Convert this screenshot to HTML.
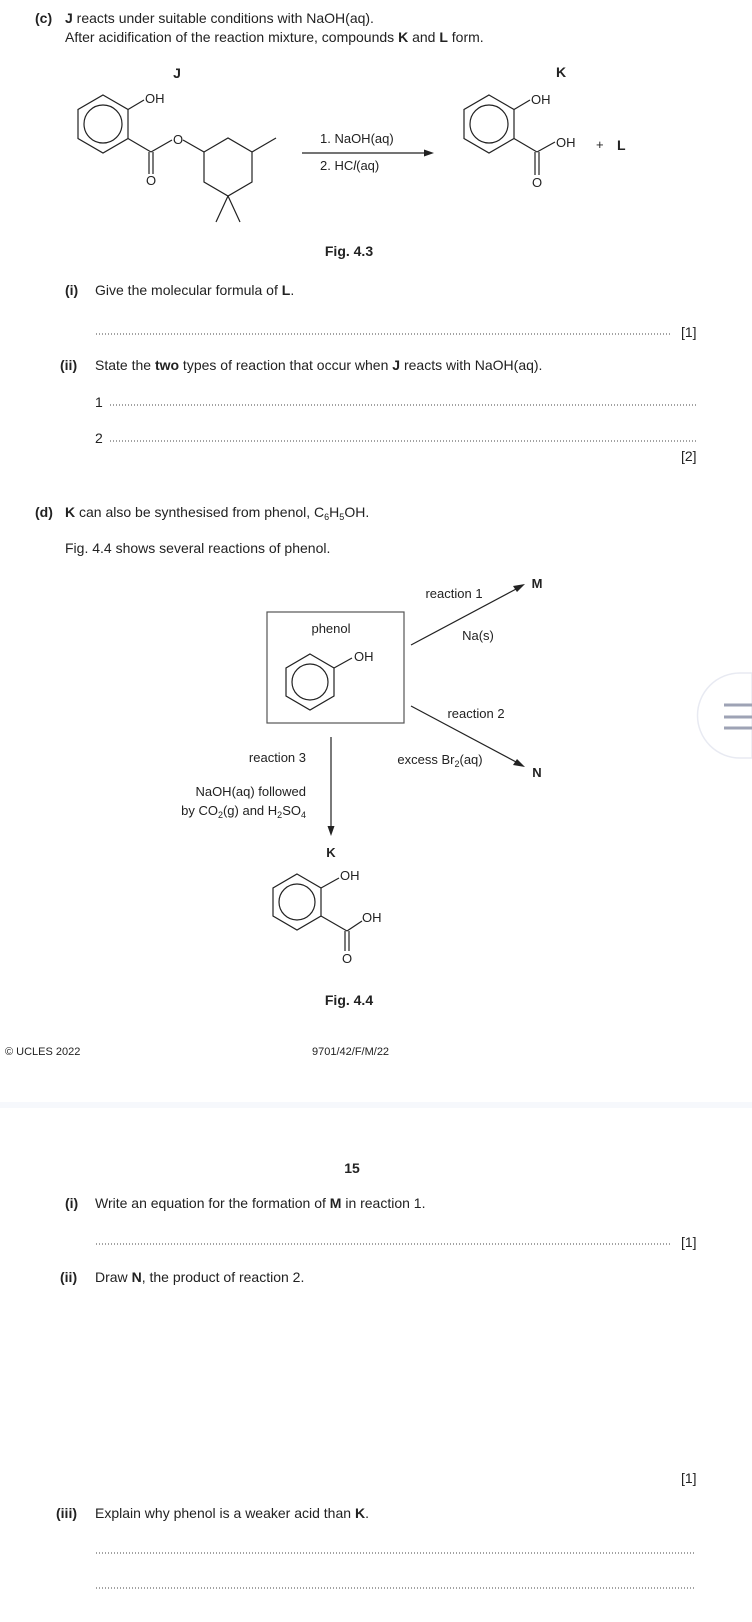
<!DOCTYPE html>
<html><head><meta charset="utf-8"><style>
html,body{margin:0;padding:0;background:#fff;}
svg{display:block;}
text{font-family:"Liberation Sans",Arial,sans-serif;font-size:14px;fill:#222;}
.b{font-weight:bold;}
.s{font-size:13px;}
.sub{font-size:9px;}
.dot{stroke:#444;stroke-width:1;stroke-dasharray:1 2;}
</style></head><body>
<svg width="752" height="1622" viewBox="0 0 752 1622" xmlns="http://www.w3.org/2000/svg">
<rect width="752" height="1622" fill="#fff"/>
<!-- header -->
<text x="35" y="23" class="b">(c)</text>
<text x="65" y="23"><tspan class="b">J</tspan> reacts under suitable conditions with NaOH(aq).</text>
<text x="65" y="42">After acidification of the reaction mixture, compounds <tspan class="b">K</tspan> and <tspan class="b">L</tspan> form.</text>

<g stroke="#222" stroke-width="1.2" fill="none">
<!-- J -->
<polygon points="103,95 128,109.5 128,138.5 103,153 78,138.5 78,109.5"/>
<circle cx="103" cy="124" r="19"/>
<line x1="128" y1="109.5" x2="144" y2="100"/>
<line x1="128" y1="138.5" x2="151" y2="152"/>
<line x1="149" y1="152" x2="149" y2="174"/><line x1="153" y1="152" x2="153" y2="174"/>
<line x1="151" y1="152" x2="172" y2="140"/>
<line x1="183" y1="140" x2="204" y2="152"/>
<polygon points="204,152 228,138 252,152 252,182 228,196 204,182"/>
<line x1="252" y1="152" x2="276" y2="138"/>
<line x1="228" y1="196" x2="216" y2="222"/><line x1="228" y1="196" x2="240" y2="222"/>
<!-- arrow -->
<line x1="302" y1="153" x2="428" y2="153"/>
<!-- K -->
<polygon points="489,95 514,109.5 514,138.5 489,153 464,138.5 464,109.5"/>
<circle cx="489" cy="124" r="19"/>
<line x1="514" y1="109.5" x2="530" y2="100"/>
<line x1="514" y1="138.5" x2="537" y2="152"/>
<line x1="535" y1="152" x2="535" y2="175"/><line x1="539" y1="152" x2="539" y2="175"/>
<line x1="537" y1="152" x2="555" y2="142"/>
<!-- phenol box -->
<rect x="267" y="612" width="137" height="111" stroke="#555"/>
<polygon points="310,654 334,668 334,696 310,710 286,696 286,668"/>
<circle cx="310" cy="682" r="18"/>
<line x1="334" y1="668" x2="352" y2="658"/>
<line x1="411" y1="645" x2="518" y2="588"/>
<line x1="411" y1="706" x2="518" y2="763"/>
<line x1="331" y1="737" x2="331" y2="828"/>
<!-- K2 -->
<polygon points="297,874 321,888 321,916 297,930 273,916 273,888"/>
<circle cx="297" cy="902" r="18"/>
<line x1="321" y1="888" x2="339" y2="878"/>
<line x1="321" y1="916" x2="347" y2="931"/>
<line x1="345" y1="931" x2="345" y2="951"/><line x1="349" y1="931" x2="349" y2="951"/>
<line x1="347" y1="931" x2="362" y2="921"/>
</g>
<g fill="#222">
<polygon points="434,153 424,149.5 424,156.5"/>
<polygon points="525,584 513,586 517,592"/>
<polygon points="525,767 513,765 517,759"/>
<polygon points="331,836 327.5,826 334.5,826"/>
</g>
<!-- molecule labels -->
<text x="177" y="78" class="b" text-anchor="middle">J</text>
<text x="145" y="103" class="s">OH</text>
<text x="151" y="185" class="s" text-anchor="middle">O</text>
<text x="178" y="144" class="s" text-anchor="middle">O</text>
<text x="320" y="143" class="s">1.  NaOH(aq)</text>
<text x="320" y="170" class="s">2.  HC<tspan font-style="italic">l</tspan>(aq)</text>
<text x="561" y="77" class="b" text-anchor="middle">K</text>
<text x="531" y="104" class="s">OH</text>
<text x="537" y="187" class="s" text-anchor="middle">O</text>
<text x="556" y="147" class="s">OH</text>
<text x="596" y="149" class="s">+</text>
<text x="617" y="150" class="b">L</text>
<text x="349" y="256" class="b" text-anchor="middle">Fig. 4.3</text>

<text x="65" y="295" class="b">(i)</text>
<text x="95" y="295">Give the molecular formula of <tspan class="b">L</tspan>.</text>
<line x1="96" y1="334" x2="672" y2="334" class="dot"/>
<text x="681" y="337">[1]</text>
<text x="60" y="370" class="b">(ii)</text>
<text x="95" y="370">State the <tspan class="b">two</tspan> types of reaction that occur when <tspan class="b">J</tspan> reacts with NaOH(aq).</text>
<text x="95" y="407">1</text>
<line x1="110" y1="405" x2="696" y2="405" class="dot"/>
<text x="95" y="443">2</text>
<line x1="110" y1="441" x2="696" y2="441" class="dot"/>
<text x="681" y="461">[2]</text>
<text x="35" y="517" class="b">(d)</text>
<text x="65" y="517"><tspan class="b">K</tspan> can also be synthesised from phenol, C<tspan class="sub" dy="3">6</tspan><tspan dy="-3">H</tspan><tspan class="sub" dy="3">5</tspan><tspan dy="-3">OH.</tspan></text>
<text x="65" y="553">Fig. 4.4 shows several reactions of phenol.</text>

<!-- fig 4.4 labels -->
<text x="454" y="598" class="s" text-anchor="middle">reaction 1</text>
<text x="537" y="588" class="b s" text-anchor="middle">M</text>
<text x="478" y="640" class="s" text-anchor="middle">Na(s)</text>
<text x="331" y="633" class="s" text-anchor="middle">phenol</text>
<text x="354" y="661" class="s">OH</text>
<text x="476" y="718" class="s" text-anchor="middle">reaction 2</text>
<text x="440" y="764" class="s" text-anchor="middle">excess Br<tspan class="sub" dy="3">2</tspan><tspan dy="-3">(aq)</tspan></text>
<text x="537" y="777" class="b s" text-anchor="middle">N</text>
<text x="306" y="762" class="s" text-anchor="end">reaction 3</text>
<text x="306" y="796" class="s" text-anchor="end">NaOH(aq) followed</text>
<text x="306" y="815" class="s" text-anchor="end">by CO<tspan class="sub" dy="3">2</tspan><tspan dy="-3">(g) and H</tspan><tspan class="sub" dy="3">2</tspan><tspan dy="-3">SO</tspan><tspan class="sub" dy="3">4</tspan></text>
<text x="331" y="857" class="b s" text-anchor="middle">K</text>
<text x="340" y="880" class="s">OH</text>
<text x="347" y="963" class="s" text-anchor="middle">O</text>
<text x="362" y="922" class="s">OH</text>
<text x="349" y="1005" class="b" text-anchor="middle">Fig. 4.4</text>

<!-- widget -->
<path d="M752,673 L740,673 A42,42 0 0 0 740,758 L752,758 Z" fill="#fff" stroke="#e8eaf2" stroke-width="1.5"/>
<g stroke="#9ea3b5" stroke-width="3"><line x1="724" y1="705" x2="752" y2="705"/><line x1="724" y1="717" x2="752" y2="717"/><line x1="724" y1="728" x2="752" y2="728"/></g>

<text x="5" y="1055" style="font-size:11px">© UCLES 2022</text>
<text x="312" y="1055" style="font-size:11px">9701/42/F/M/22</text>
<rect x="0" y="1102" width="752" height="6" fill="#f6f8fc"/>
<text x="352" y="1173" class="b" text-anchor="middle">15</text>
<text x="65" y="1208" class="b">(i)</text>
<text x="95" y="1208">Write an equation for the formation of <tspan class="b">M</tspan> in reaction 1.</text>
<line x1="96" y1="1244" x2="672" y2="1244" class="dot"/>
<text x="681" y="1247">[1]</text>
<text x="60" y="1282" class="b">(ii)</text>
<text x="95" y="1282">Draw <tspan class="b">N</tspan>, the product of reaction 2.</text>
<text x="681" y="1483">[1]</text>
<text x="56" y="1518" class="b">(iii)</text>
<text x="95" y="1518">Explain why phenol is a weaker acid than <tspan class="b">K</tspan>.</text>
<line x1="96" y1="1553" x2="696" y2="1553" class="dot"/>
<line x1="96" y1="1588" x2="696" y2="1588" class="dot"/>
</svg>
</body></html>
